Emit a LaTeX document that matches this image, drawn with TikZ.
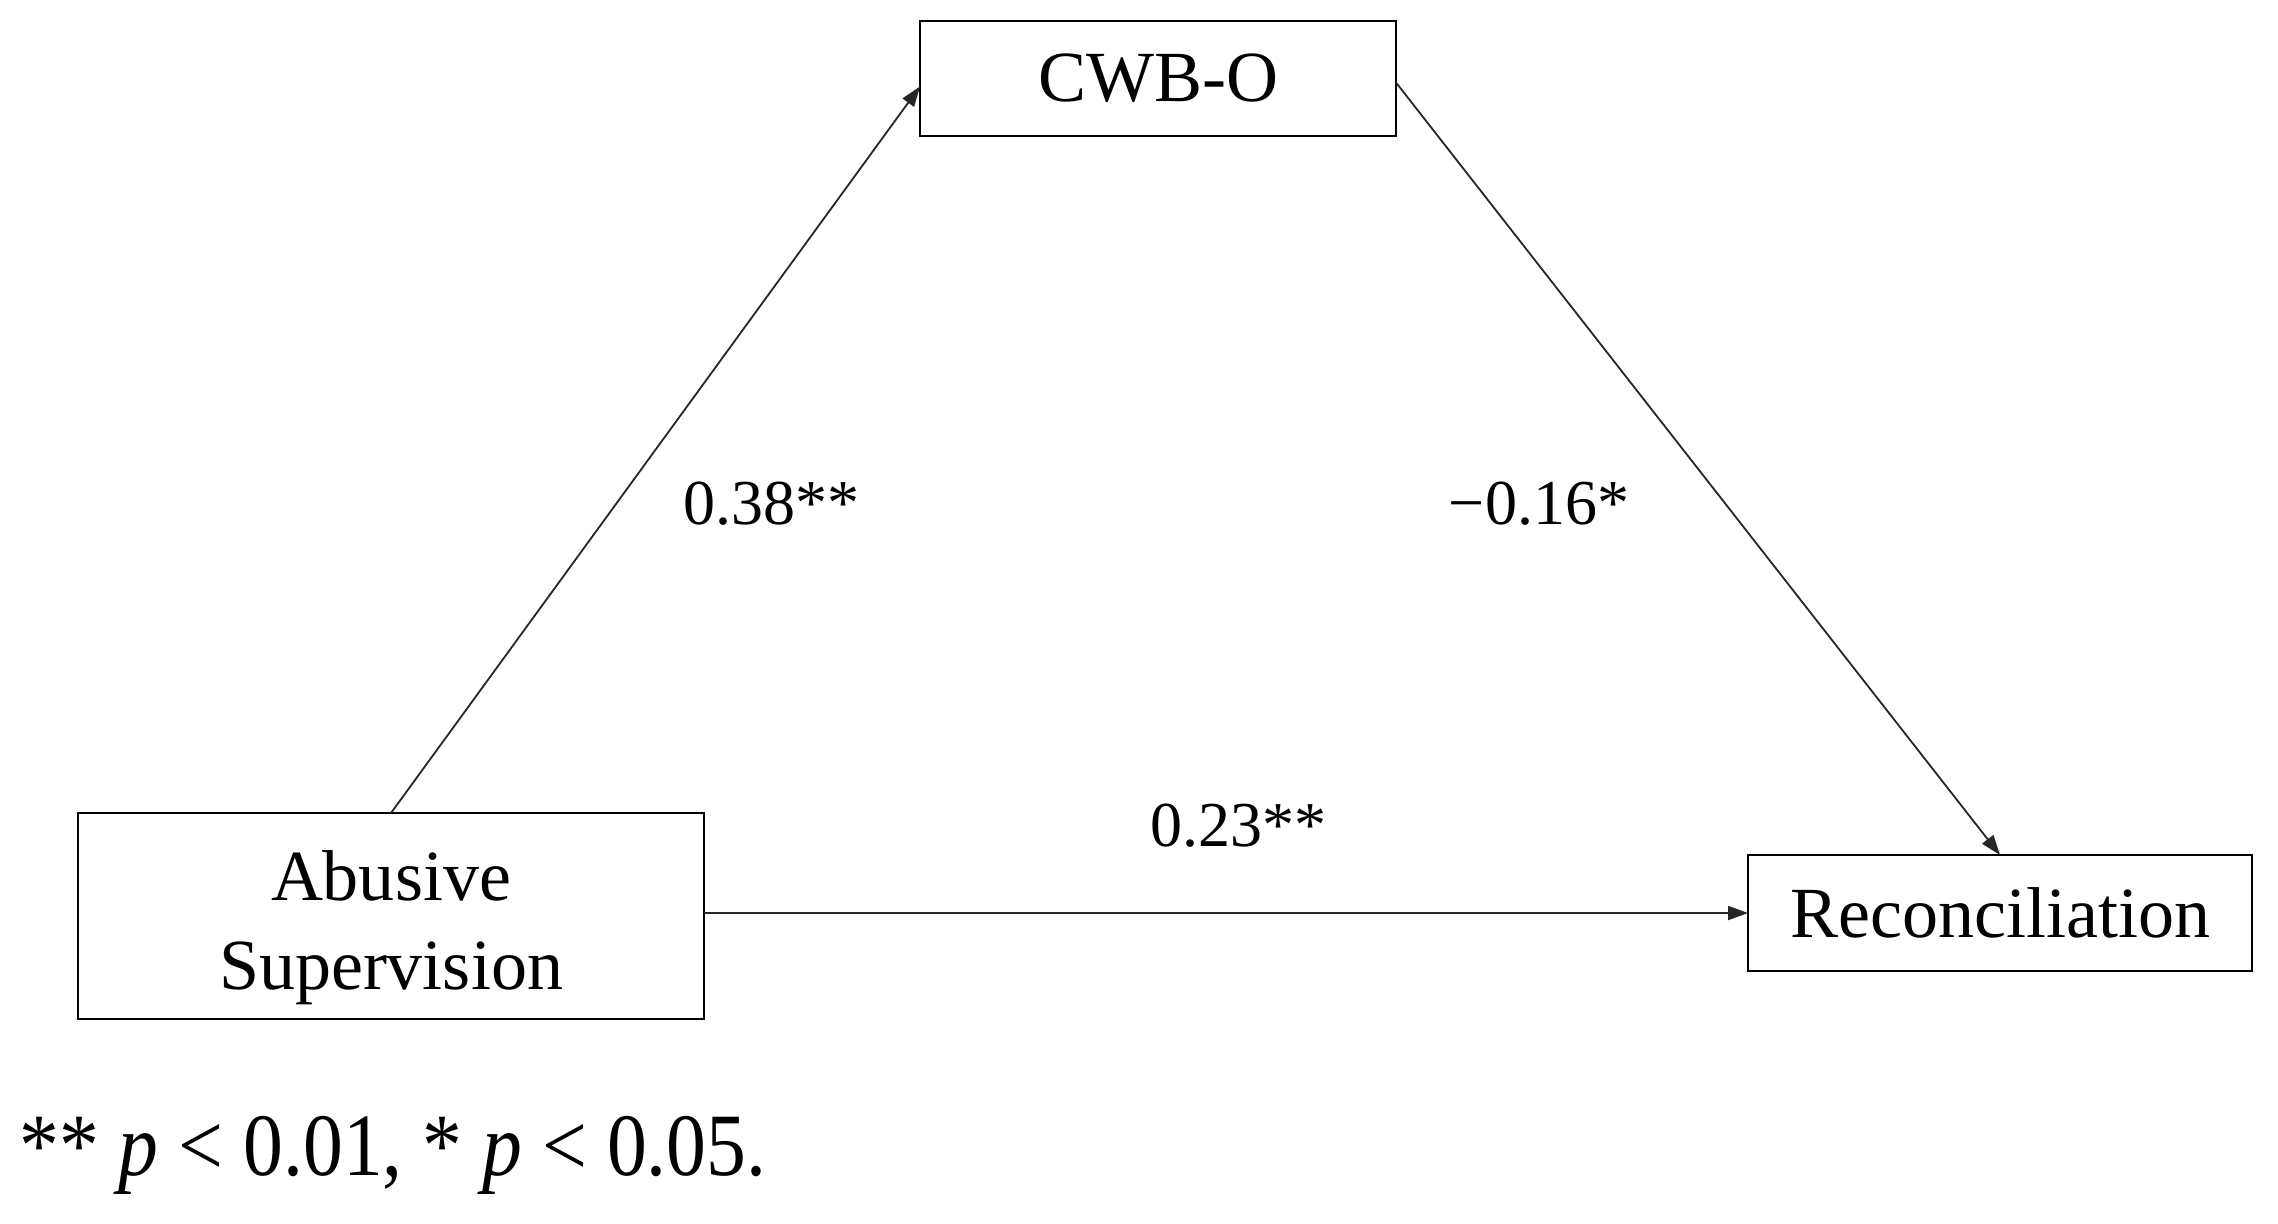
\documentclass[tikz,border=0pt]{standalone}
\usepackage{fontspec}
\setmainfont{Liberation Serif}
\usetikzlibrary{arrows.meta}
\begin{document}
\begin{tikzpicture}[x=0.5pt,y=-0.5pt,
  boxnode/.style={draw=black, line width=1.4pt, rectangle, inner sep=0pt, outer sep=0pt,
    font=\fontsize{36}{44.5}\selectfont, align=center},
  boxtext/.style={inner sep=0pt, font=\fontsize{36}{44.5}\selectfont, align=center},
  pathlabel/.style={inner sep=0pt, font=\fontsize{32}{38}\selectfont},
  conn/.style={draw=black!85, line width=0.9pt, -{Triangle[length=10pt,width=7pt]}}]
\useasboundingbox (0,0) rectangle (2278,1223);
\node[boxnode, minimum width=238pt, minimum height=57.5pt] (cwb) at (1158,78.5) {CWB-O};
\node[boxnode, minimum width=313pt, minimum height=103pt] (abs) at (391,916) {};
\node[boxtext] (abstext) at (391,928) {Abusive\\Supervision};
\node[boxnode, minimum width=252pt, minimum height=58pt] (rec) at (2000,913) {Reconciliation};
\draw[conn] (abs.north) -- ([yshift=-4pt]cwb.west);
\draw[conn] ([yshift=-2pt]cwb.east) -- (rec.north);
\draw[conn] (abs.east |- rec.west) -- (rec.west);
\node[pathlabel] (l1) at (771,504) {0.38**};
\node[pathlabel] (l2) at (1539,504) {−0.16*};
\node[pathlabel] (l3) at (1238,826) {0.23**};
\node[anchor=base west, inner sep=0pt, font=\fontsize{44.5}{50}\selectfont] (note) at (19,1175) {\scalebox{0.895}[1]{** \textit{p} < 0.01, * \textit{p} < 0.05.}};
\end{tikzpicture}
\end{document}
